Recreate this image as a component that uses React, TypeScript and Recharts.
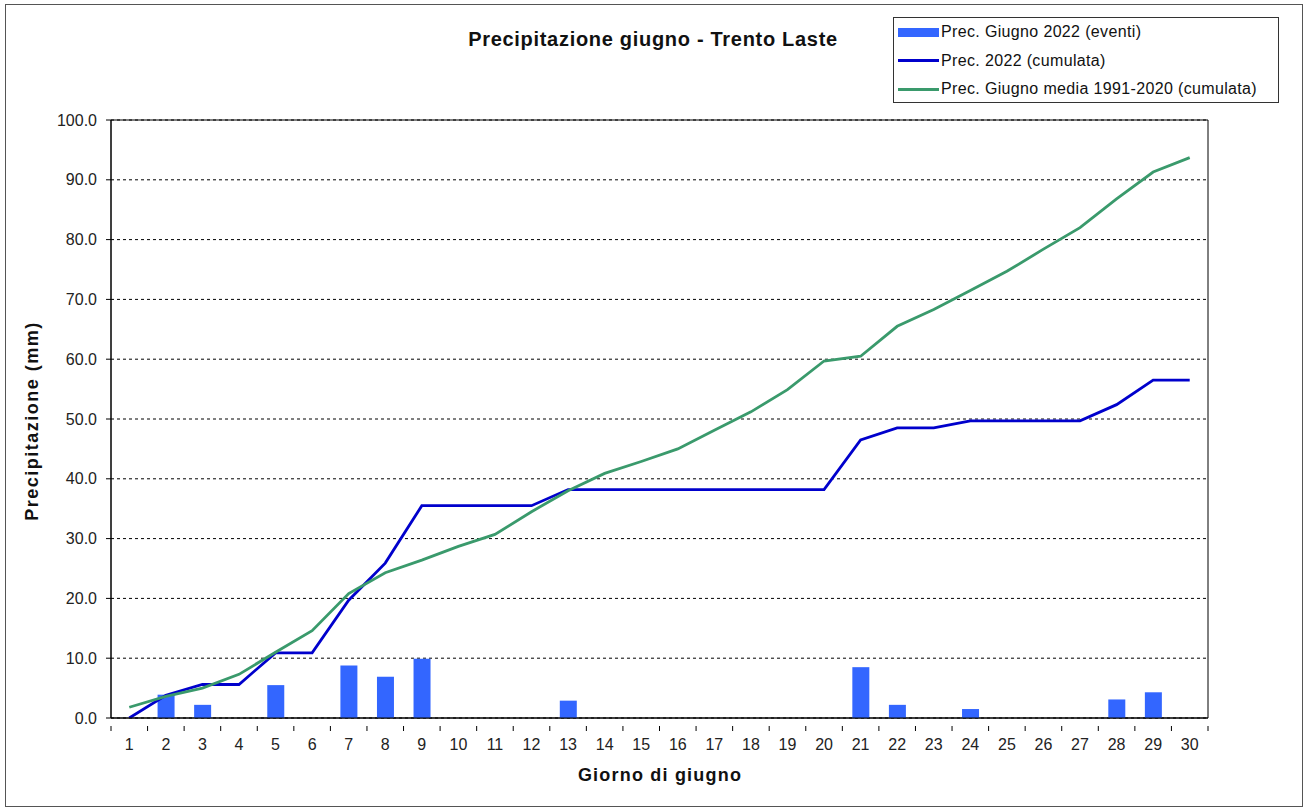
import React from "react";
import {
  ComposedChart,
  Bar,
  Line,
  XAxis,
  YAxis,
  CartesianGrid,
  ReferenceArea,
} from "recharts";

const days = Array.from({ length: 30 }, (_, i) => String(i + 1));

const eventi2022 = [
  0, 3.9, 2.2, 0, 5.5, 0, 8.8, 6.9, 9.9, 0,
  0, 0, 2.9, 0, 0, 0, 0, 0, 0, 0,
  8.5, 2.2, 0, 1.5, 0, 0, 0, 3.1, 4.3, 0,
];

const cumulata2022 = [
  0, 3.8, 5.6, 5.6, 10.9, 10.9, 19.7, 25.9, 35.5, 35.5,
  35.5, 35.5, 38.2, 38.2, 38.2, 38.2, 38.2, 38.2, 38.2, 38.2,
  46.5, 48.5, 48.5, 49.7, 49.7, 49.7, 49.7, 52.4, 56.5, 56.5,
];

const mediaCumulata = [
  1.8, 3.6, 5.0, 7.3, 11.0, 14.6, 20.8, 24.3, 26.4, 28.7,
  30.7, 34.5, 38.0, 40.9, 42.9, 45.0, 48.1, 51.2, 54.9, 59.7,
  60.5, 65.5, 68.3, 71.5, 74.7, 78.4, 82.0, 86.8, 91.3, 93.7,
];

const yTicks = [0, 10, 20, 30, 40, 50, 60, 70, 80, 90, 100];

const data = days.map((d, i) => ({
  day: d,
  eventi: eventi2022[i] === 0 ? null : eventi2022[i],
  cum: cumulata2022[i],
  media: mediaCumulata[i],
}));

const FONT = "'Liberation Sans', Arial, sans-serif";
const BAR_COLOR = "#3366FF";
const BLUE = "#0000CC";
const GREEN = "#3A9A6C";

const PLOT_W = 1097;
const N = days.length;

const XTick = (props: any) => {
  const { x, y, payload, index } = props;
  const half =
    payload && typeof payload.offset === "number" && payload.offset > 0
      ? payload.offset
      : PLOT_W / N / 2;
  return (
    <g>
      <line x1={x - half} y1={y} x2={x - half} y2={y + 5} stroke="#000" />
      {index === N - 1 && (
        <line x1={x + half} y1={y} x2={x + half} y2={y + 5} stroke="#000" />
      )}
      <text
        x={x}
        y={y + 20}
        textAnchor="middle"
        dominantBaseline="middle"
        fontFamily={FONT}
        fontSize={16}
        fill="#222"
      >
        {payload.value}
      </text>
    </g>
  );
};

const legendItems = [
  { label: "Prec. Giugno 2022 (eventi)", color: BAR_COLOR, h: 9 },
  { label: "Prec. 2022 (cumulata)", color: BLUE, h: 3 },
  { label: "Prec. Giugno media 1991-2020 (cumulata)", color: GREEN, h: 3 },
];

export default function App() {
  return (
    <div style={{ position: "absolute", left: 0, top: 0, width: 1306, height: 807, background: "#fff" }}>
      <div
        style={{
          position: "absolute",
          left: 5,
          top: 4,
          width: 1296,
          height: 801,
          border: "1px solid #555",
        }}
      />
      <div
        style={{
          position: "absolute",
          left: 0,
          width: 1306,
          top: 28,
          textAlign: "center",
          fontFamily: FONT,
          fontWeight: "bold",
          fontSize: 20,
          letterSpacing: 0.7,
          color: "#111",
        }}
      >
        Precipitazione giugno - Trento Laste
      </div>
      <div
        style={{
          position: "absolute",
          left: 32,
          top: 421,
          transform: "translate(-50%, -50%) rotate(-90deg)",
          whiteSpace: "nowrap",
          fontFamily: FONT,
          fontWeight: "bold",
          fontSize: 18,
          letterSpacing: 1.5,
          color: "#111",
        }}
      >
        Precipitazione (mm)
      </div>
      <div
        style={{
          position: "absolute",
          left: 0,
          width: 1320,
          top: 765,
          textAlign: "center",
          fontFamily: FONT,
          fontWeight: "bold",
          fontSize: 18,
          letterSpacing: 1.2,
          color: "#111",
        }}
      >
        Giorno di giugno
      </div>
      <div
        style={{
          position: "absolute",
          left: 893,
          top: 17,
          width: 386,
          height: 86,
          boxSizing: "border-box",
          border: "1px solid #333",
          background: "#fff",
          padding: "0px 4px",
          fontFamily: FONT,
          fontSize: 16,
          color: "#111",
          lineHeight: "28.5px",
          letterSpacing: 0.35,
        }}
      >
        {legendItems.map((it) => (
          <div key={it.label} style={{ display: "flex", alignItems: "center", height: 28.5 }}>
            <span
              style={{
                display: "inline-block",
                width: 41,
                height: it.h,
                background: it.color,
                marginRight: 2,
                flexShrink: 0,
              }}
            />
            {it.label}
          </div>
        ))}
      </div>
      <ComposedChart
        width={1306}
        height={807}
        data={data}
        margin={{ top: 120, right: 98, left: 61, bottom: 59 }}
        style={{ position: "absolute", left: 0, top: 0 }}
      >
        <CartesianGrid
          vertical={false}
          horizontal={true}
          stroke="#000"
          strokeDasharray="3 3"
          yAxisId="left"
          xAxisId="x"
        />
        <XAxis
          xAxisId="x"
          dataKey="day"
          interval={0}
          tickLine={false}
          axisLine={{ stroke: "#000" }}
          tick={<XTick />}
          height={30}
        />
        <YAxis
          yAxisId="left"
          domain={[0, 100]}
          ticks={yTicks}
          interval={0}
          tickFormatter={(v: number) => v.toFixed(1)}
          tick={{ fontFamily: FONT, fontSize: 16, fill: "#222" }}
          tickLine={{ stroke: "#000" }}
          tickSize={5}
          tickMargin={9}
          axisLine={{ stroke: "#000" }}
          width={50}
          allowDataOverflow
        />
        <ReferenceArea
          xAxisId="x"
          yAxisId="left"
          y1={0}
          y2={100}
          fill="none"
          fillOpacity={0}
          stroke="#000"
          strokeWidth={1}
          ifOverflow="visible"
        />
        <Bar
          xAxisId="x"
          yAxisId="left"
          dataKey="eventi"
          fill={BAR_COLOR}
          barSize={17}
          isAnimationActive={false}
        />
        <Line
          xAxisId="x"
          yAxisId="left"
          type="linear"
          dataKey="cum"
          stroke={BLUE}
          strokeWidth={2.8}
          dot={false}
          isAnimationActive={false}
        />
        <Line
          xAxisId="x"
          yAxisId="left"
          type="linear"
          dataKey="media"
          stroke={GREEN}
          strokeWidth={2.8}
          dot={false}
          isAnimationActive={false}
        />
      </ComposedChart>
    </div>
  );
}
